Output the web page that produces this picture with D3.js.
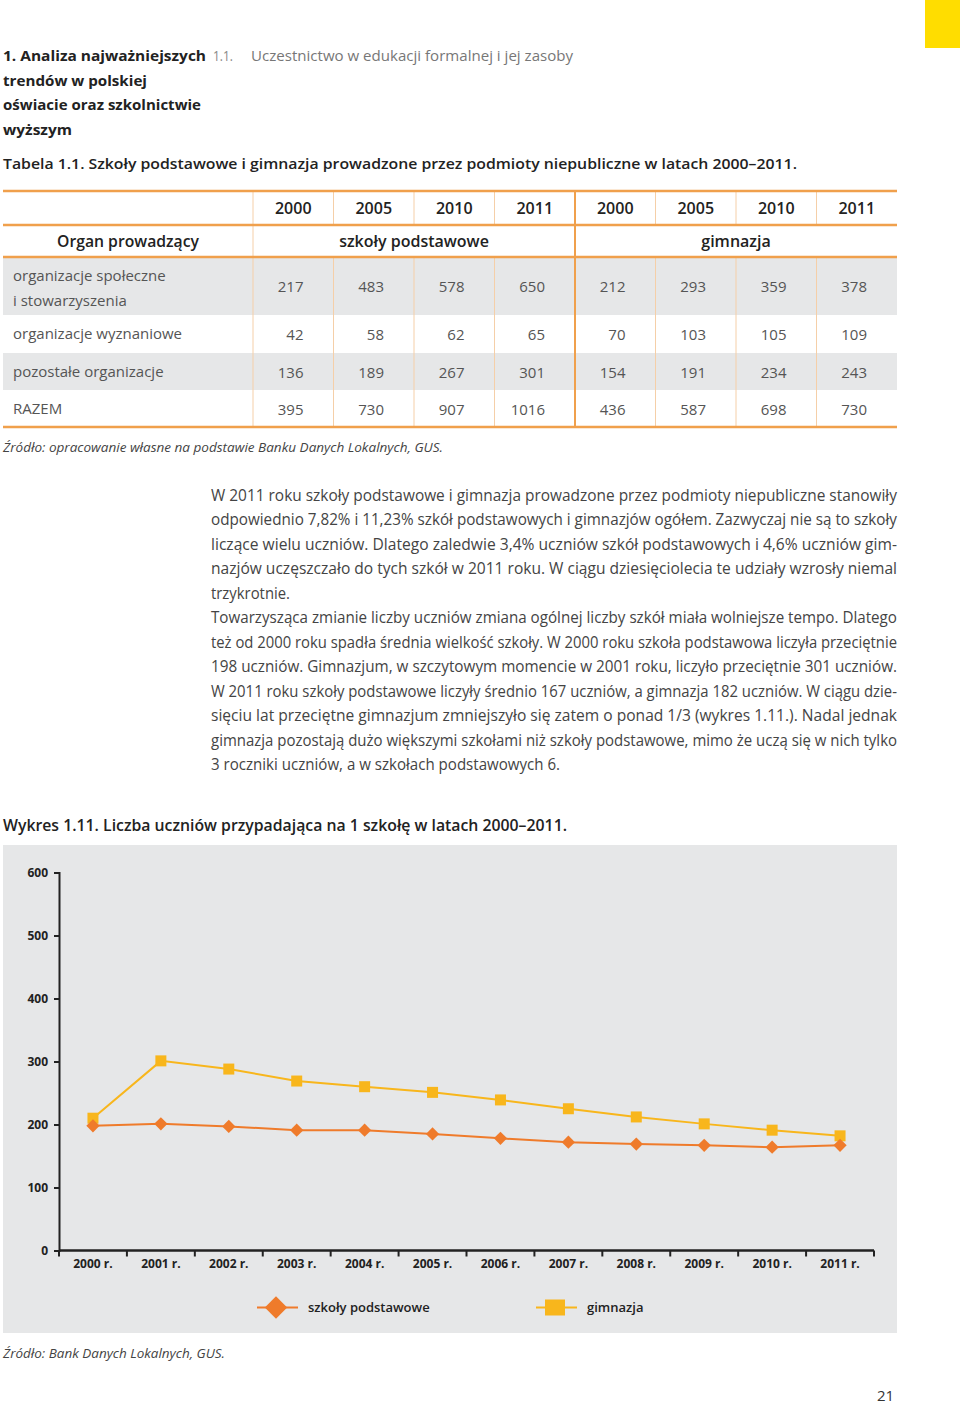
<!DOCTYPE html>
<html><head><meta charset="utf-8">
<script src="https://cdn.jsdelivr.net/npm/d3@7"></script>
<style>body{margin:0;background:#fff}svg{display:block}</style>
</head><body>
<script>
// ---------- DATA ----------
const tableYears = ["2000","2005","2010","2011","2000","2005","2010","2011"];
const tableGroups = ["szkoły podstawowe","gimnazja"];
const tableRowLabels = [["organizacje społeczne","i stowarzyszenia"],["organizacje wyznaniowe"],["pozostałe organizacje"],["RAZEM"]];
const rowSpoleczne = [217,483,578,650,212,293,359,378];
const rowWyznaniowe = [42,58,62,65,70,103,105,109];
const rowPozostale = [136,189,267,301,154,191,234,243];
const rowRazem = [395,730,907,1016,436,587,698,730];

const chartYears = ["2000 r.","2001 r.","2002 r.","2003 r.","2004 r.","2005 r.","2006 r.","2007 r.","2008 r.","2009 r.","2010 r.","2011 r."];
const szkolyPodstawowe = [198,201,197,191,191,185,178,172,169,167,164,167];
const gimnazja = [210,301,288,269,260,251,239,225,212,201,191,182];
const yTicks = [0,100,200,300,400,500,600];
const seriesNames = ["szkoły podstawowe","gimnazja"];

const paragraph = [
 ["W 2011 roku szkoły podstawowe i gimnazja prowadzone przez podmioty niepubliczne stanowiły", true],
 ["odpowiednio 7,82% i 11,23% szkół podstawowych i gimnazjów ogółem. Zazwyczaj nie są to szkoły", true],
 ["liczące wielu uczniów. Dlatego zaledwie 3,4% uczniów szkół podstawowych i 4,6% uczniów gim-", true],
 ["nazjów uczęszczało do tych szkół w 2011 roku. W ciągu dziesięciolecia te udziały wzrosły niemal", true],
 ["trzykrotnie.", false],
 ["Towarzysząca zmianie liczby uczniów zmiana ogólnej liczby szkół miała wolniejsze tempo. Dlatego", true],
 ["też od 2000 roku spadła średnia wielkość szkoły. W 2000 roku szkoła podstawowa liczyła przeciętnie", true],
 ["198 uczniów. Gimnazjum, w szczytowym momencie w 2001 roku, liczyło przeciętnie 301 uczniów.", true],
 ["W 2011 roku szkoły podstawowe liczyły średnio 167 uczniów, a gimnazja 182 uczniów. W ciągu dzie-", true],
 ["sięciu lat przeciętne gimnazjum zmniejszyło się zatem o ponad 1/3 (wykres 1.11.). Nadal jednak", true],
 ["gimnazja pozostają dużo większymi szkołami niż szkoły podstawowe, mimo że uczą się w nich tylko", true],
 ["3 roczniki uczniów, a w szkołach podstawowych 6.", false]
];

// ---------- PAGE ----------
const W = 960, H = 1406;
const FONT = "'Open Sans', 'Noto Sans', sans-serif";
const ORANGE = "#ef7b2b", YELLOW = "#f8b61c", TORANGE = "#f0a04c";
const svg = d3.select("body").append("svg").attr("width", W).attr("height", H)
  .style("font-family", FONT);

function txt(x, y, s, o = {}) {
  const t = svg.append("text").attr("x", x).attr("y", y).text(s)
    .attr("font-size", o.size || 15).attr("font-weight", o.weight || 400)
    .attr("fill", o.fill || "#333").attr("text-anchor", o.anchor || "start");
  if (o.italic) t.attr("font-style", "italic");
  if (o.len) t.attr("textLength", o.len).attr("lengthAdjust", "spacingAndGlyphs");
  return t;
}

// yellow corner block
svg.append("rect").attr("x", 925).attr("y", 0).attr("width", 35).attr("height", 48).attr("fill", "#ffdd00");

// header
txt(3, 61, "1. Analiza najważniejszych", {weight: 700, len: 203, fill: "#222"});
txt(213, 61, "1.1.", {fill: "#888", len: 20});
txt(251, 61, "Uczestnictwo w edukacji formalnej i jej zasoby", {fill: "#777", len: 322});
txt(3, 86, "trendów w polskiej", {weight: 700, len: 144, fill: "#222"});
txt(3, 110, "oświacie oraz szkolnictwie", {weight: 700, len: 198, fill: "#222"});
txt(3, 135, "wyższym", {weight: 700, len: 69, fill: "#222"});
txt(3, 169, "Tabela 1.1. Szkoły podstawowe i gimnazja prowadzone przez podmioty niepubliczne w latach 2000–2011.", {weight: 600, len: 794, fill: "#222"});

// ---------- TABLE ----------
const tx = d3.scaleBand().domain(d3.range(8)).range([253, 897]);
const tableRows = [rowSpoleczne, rowWyznaniowe, rowPozostale, rowRazem];
const rowY = [[257, 315], [315, 353], [353, 390], [390, 427]];
svg.selectAll("rect.trow").data(rowY.filter((d, i) => i % 2 === 0)).enter().append("rect")
  .attr("x", 3).attr("width", 894).attr("y", d => d[0]).attr("height", d => d[1] - d[0]).attr("fill", "#e6e7e8");
const vLines = d3.range(8).map(i => tx(i));
svg.selectAll("line.vsep").data(vLines).enter().append("line")
  .attr("x1", d => d).attr("x2", d => d)
  .attr("y1", 191).attr("y2", 427)
  .attr("stroke", (d, i) => i === 4 ? TORANGE : "#f5cfa8")
  .attr("stroke-width", (d, i) => i === 4 ? 2 : 1);
svg.selectAll("rect.gmask").data([[254, 574], [576, 897]]).enter().append("rect")
  .attr("x", d => d[0] + 0.5).attr("width", d => d[1] - d[0] - 1).attr("y", 226).attr("height", 30).attr("fill", "#fff");
svg.selectAll("line.hsep").data([191, 225, 257, 427]).enter().append("line")
  .attr("x1", 3).attr("x2", 897).attr("y1", d => d).attr("y2", d => d)
  .attr("stroke", TORANGE).attr("stroke-width", 2.5);
svg.selectAll("text.yr").data(tableYears).enter().append("text")
  .attr("x", (d, i) => tx(i) + tx.bandwidth() / 2).attr("y", 214)
  .attr("text-anchor", "middle").attr("font-size", 16).attr("font-weight", 600).attr("fill", "#222").text(d => d);
txt(128, 247, "Organ prowadzący", {anchor: "middle", size: 16, weight: 600, fill: "#222", len: 142});
svg.selectAll("text.grp").data(tableGroups).enter().append("text")
  .attr("x", (d, i) => tx(i * 4) + tx.bandwidth() * 2).attr("y", 247)
  .attr("text-anchor", "middle").attr("font-size", 16).attr("font-weight", 600).attr("fill", "#222").text(d => d);
tableRowLabels.forEach((lab, r) => {
  const [y0, y1] = rowY[r];
  const mid = (y0 + y1) / 2;
  lab.forEach((s, k) => {
    const yy = lab.length === 2 ? mid - 10 + k * 25 + 5 : mid + 5;
    txt(13, yy, s, {fill: "#555", size: 15});
  });
  svg.selectAll("text.cell" + r).data(tableRows[r]).enter().append("text")
    .attr("x", (d, i) => tx(i) + tx.bandwidth() - 30).attr("y", mid + 6)
    .attr("text-anchor", "end").attr("font-size", 15).attr("fill", "#555").text(d => d);
});
txt(3, 452, "Źródło: opracowanie własne na podstawie Banku Danych Lokalnych, GUS.", {italic: true, size: 13, fill: "#444", len: 440});

// ---------- PARAGRAPH ----------
const naturalW = {"trzykrotnie.": 79, "3 roczniki uczniów, a w szkołach podstawowych 6.": 349};
paragraph.forEach((p, i) => {
  const y = 501 + i * 24.45;
  const t = txt(211, y, p[0], {size: 15.5, fill: "#444"});
  const len = p[1] ? 686 : naturalW[p[0]];
  t.attr("textLength", len).attr("lengthAdjust", "spacingAndGlyphs");
});

// ---------- CHART ----------
txt(3, 831, "Wykres 1.11. Liczba uczniów przypadająca na 1 szkołę w latach 2000–2011.", {weight: 600, size: 16, fill: "#222", len: 564});
svg.append("rect").attr("x", 3).attr("y", 845).attr("width", 894).attr("height", 488).attr("fill", "#e6e7e8");

const x = d3.scaleBand().domain(chartYears).range([59, 874]);
const y = d3.scaleLinear().domain([0, 600]).range([1250.5, 872.5]);

const g = svg.append("g");
const yAx = g.append("g").attr("transform", "translate(59,0)")
  .call(d3.axisLeft(y).tickValues(yTicks).tickSize(5).tickPadding(6).tickFormat(d3.format("d")));
yAx.select(".domain").attr("stroke", "#222").attr("stroke-width", 2);
yAx.selectAll(".tick line").attr("stroke", "#222").attr("stroke-width", 2);
yAx.selectAll(".tick text").attr("font-family", FONT).attr("font-size", 12).attr("font-weight", 700).attr("fill", "#222");

const xAx = g.append("g").attr("transform", "translate(0,1250.5)")
  .call(d3.axisBottom(x).tickSize(0).tickPadding(9));
xAx.select(".domain").attr("stroke", "#222").attr("stroke-width", 2.5).attr("d", "M59,0H874");
xAx.selectAll(".tick text").attr("font-family", FONT).attr("font-size", 12).attr("font-weight", 700).attr("fill", "#222");
xAx.selectAll("line.bt").data(chartYears.map(d => x(d)).concat([x.range()[1]])).enter().append("line")
  .attr("x1", d => d).attr("x2", d => d).attr("y1", 0).attr("y2", 6).attr("stroke", "#222").attr("stroke-width", 2);

const cx = d => x(d) + x.bandwidth() / 2;
const line = d3.line().x((d, i) => cx(chartYears[i])).y(d => y(d));
g.append("path").datum(gimnazja).attr("d", line).attr("fill", "none").attr("stroke", YELLOW).attr("stroke-width", 2);
g.append("path").datum(szkolyPodstawowe).attr("d", line).attr("fill", "none").attr("stroke", ORANGE).attr("stroke-width", 2);

const sq = d3.symbol().type(d3.symbolSquare).size(121);
const dm = d3.symbol().type(d3.symbolSquare).size(88);
g.selectAll("path.gm").data(gimnazja).enter().append("path")
  .attr("d", sq).attr("fill", YELLOW)
  .attr("transform", (d, i) => `translate(${cx(chartYears[i])},${y(d)})`);
g.selectAll("path.sp").data(szkolyPodstawowe).enter().append("path")
  .attr("d", dm).attr("fill", ORANGE)
  .attr("transform", (d, i) => `translate(${cx(chartYears[i])},${y(d)}) rotate(45)`);

// legend
const legend = [
  {name: seriesNames[0], color: ORANGE, x0: 257},
  {name: seriesNames[1], color: YELLOW, x0: 536}
];
legend.forEach((l, i) => {
  svg.append("line").attr("x1", l.x0).attr("x2", l.x0 + 41).attr("y1", 1307.5).attr("y2", 1307.5)
    .attr("stroke", l.color).attr("stroke-width", 2);
  if (i === 0) {
    svg.append("path").attr("d", d3.symbol().type(d3.symbolSquare).size(250)).attr("fill", l.color)
      .attr("transform", `translate(${l.x0 + 19},1307.5) rotate(45)`);
  } else {
    svg.append("rect").attr("x", l.x0 + 9).attr("y", 1299.5).attr("width", 20).attr("height", 16).attr("fill", l.color);
  }
  txt(l.x0 + 51, 1312, l.name, {size: 13, weight: 600, fill: "#222"});
});

txt(3, 1358, "Źródło: Bank Danych Lokalnych, GUS.", {italic: true, size: 13, fill: "#444", len: 222});
txt(877, 1401, "21", {size: 15, fill: "#333"});
</script>
</body></html>
